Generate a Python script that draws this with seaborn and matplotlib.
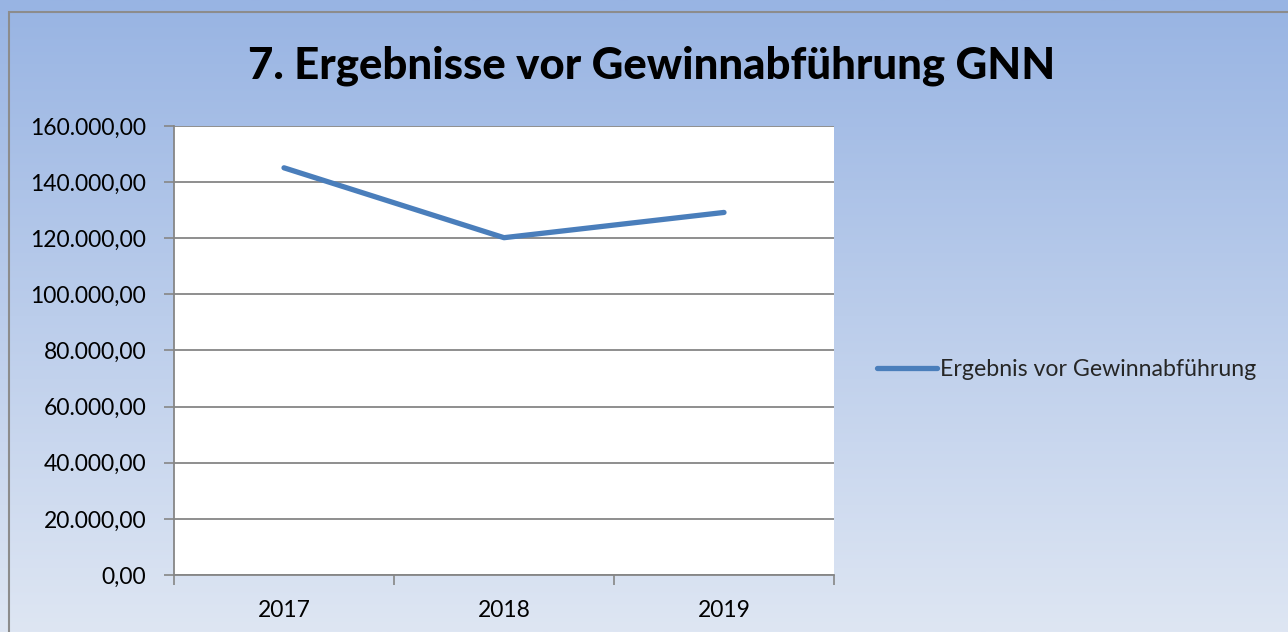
"""
Ergebnisse vor Gewinnabführung GNN - line chart
"""

import numpy as np
import pandas as pd
import matplotlib
matplotlib.use('Agg')
import matplotlib.pyplot as plt
from matplotlib.patches import Rectangle
from matplotlib.ticker import FuncFormatter, FixedLocator
import seaborn as sns

# Data
years = ['2017', '2018', '2019']
ergebnis = [145100, 120200, 129200]
series_name = 'Ergebnis vor Gewinnabführung'
title = '7. Ergebnisse vor Gewinnabführung GNN'

df = pd.DataFrame({'Jahr': years, 'Wert': ergebnis})

sns.set_theme(style='white')
plt.rcParams['font.family'] = ['Lato', 'DejaVu Sans']

fig = plt.figure(figsize=(12.88, 6.32), dpi=100)

# gradient background over the whole figure
bg = fig.add_axes([0, 0, 1, 1], zorder=0)
grad = np.linspace(0, 1, 256).reshape(-1, 1)
top = np.array([0x98, 0xB4, 0xE3]) / 255
bottom = np.array([0xDE, 0xE6, 0xF3]) / 255
img = top + grad[..., None] * (bottom - top)
bg.imshow(img.reshape(256, 1, 3), aspect='auto', extent=[0, 1, 0, 1])
bg.add_patch(Rectangle((9 / 1288, -0.05), 1.1, 1 - 12 / 632 + 0.05,
                       fill=False, edgecolor='#8c8c8c', linewidth=1.5))
bg.set_xlim(0, 1)
bg.set_ylim(0, 1)
bg.axis('off')

ax = fig.add_axes([174 / 1288, 1 - 575 / 632, 660 / 1288, 449 / 632], zorder=1)
ax.set_facecolor('white')

sns.lineplot(data=df, x='Jahr', y='Wert', ax=ax, color='#4A7EBB',
             linewidth=3.8, solid_capstyle='round', label=series_name, legend=False)

ax.set_xlim(-0.5, 2.5)
ax.set_ylim(0, 160000)
ax.set_yticks(np.arange(0, 160001, 20000))
ax.yaxis.set_major_formatter(FuncFormatter(
    lambda v, p: f'{v:,.2f}'.replace(',', 'X').replace('.', ',').replace('X', '.')))
ax.grid(axis='y', color='#868686', linewidth=1.3)
ax.set_axisbelow(True)

# category ticks: labels centred, tick marks between categories
ax.xaxis.set_major_locator(FixedLocator([0, 1, 2]))
ax.set_xticklabels(years)
ax.xaxis.set_minor_locator(FixedLocator([-0.5, 0.5, 1.5, 2.5]))
ax.tick_params(axis='x', which='major', length=0, pad=18, labelsize=16.5, colors='black')
ax.tick_params(axis='x', which='minor', bottom=True, length=7, width=1.2, color='#868686')
ax.tick_params(axis='y', left=True, length=7, width=1.2, color='#868686',
               labelsize=16.5, pad=13, labelcolor='black')
ax.set_xlabel('')
ax.set_ylabel('')

for side in ['top', 'right']:
    ax.spines[side].set_visible(False)
for side in ['left', 'bottom']:
    ax.spines[side].set_color('#868686')
    ax.spines[side].set_linewidth(1.3)

fig.text(652 / 1288, 1 - 66 / 632, title, ha='center', va='center',
         fontsize=31.5, fontweight='black', color='black')

handles, labels = ax.get_legend_handles_labels()
fig.legend(handles, labels, loc='center left',
           bbox_to_anchor=(856 / 1288, 1 - 370 / 632), frameon=False,
           fontsize=16.7, handlelength=2.6, handletextpad=0.1)

plt.savefig('out.png', dpi=100)
